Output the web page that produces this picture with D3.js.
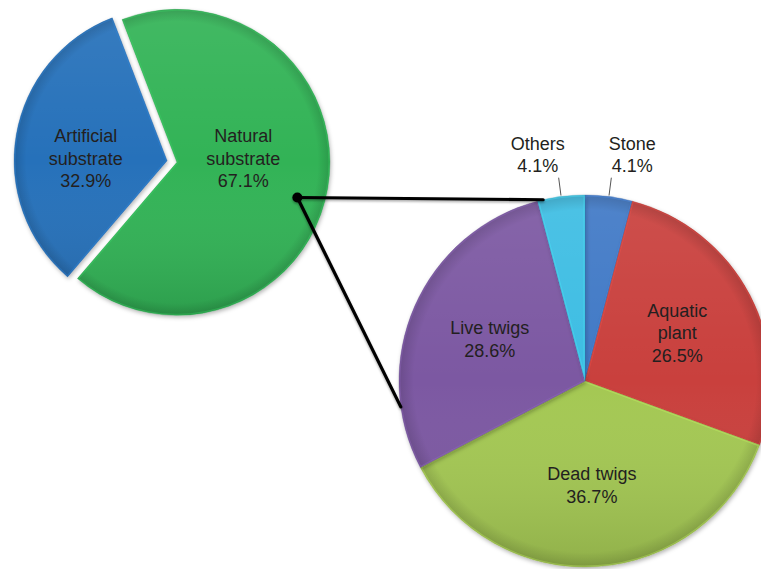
<!DOCTYPE html>
<html>
<head>
<meta charset="utf-8">
<script src="https://cdn.jsdelivr.net/npm/d3@7"></script>
<style>
  html, body { margin: 0; padding: 0; background: #ffffff; }
  svg { display: block; font-family: "Liberation Sans", Arial, Helvetica, sans-serif; }
</style>
</head>
<body>
<svg id="chart" width="761" height="569"></svg>
<script>
// ---- data ----------------------------------------------------------
const substrateNames  = ["Natural substrate", "Artificial substrate"];
const substrateLines  = [["Natural", "substrate"], ["Artificial", "substrate"]];
const substrateShares = [67.1, 32.9];

const naturalNames  = ["Stone", "Aquatic plant", "Dead twigs", "Live twigs", "Others"];
const naturalLines  = [["Stone"], ["Aquatic", "plant"], ["Dead twigs"], ["Live twigs"], ["Others"]];
const naturalShares = [4.1, 26.5, 36.7, 28.6, 4.1];

// ---- styles / layout ----------------------------------------------
const substrateColors = ["#31b356", "#2871ba"];
const naturalColors   = ["#4179c6", "#c9403c", "#a4c853", "#7b58a2", "#3cbde3"];

const leftPie  = { cx: 172, cy: 161.5, r: 153, explode: 5, start: -21 };
const rightPie = { cx: 585, cy: 381,   r: 186, explode: 0, start: 0 };

const substrateLabelRadius = [0.44, 0.54];   // fraction of radius, horizontal placement
const naturalLabelRadius   = 0.56;           // fraction of radius along slice bisector
const outsideSlices = ["Stone", "Others"];   // labelled outside with a leader line
const fontSize = 18, lineHeight = 22.5, textColor = "#231f20";

const rad = Math.PI / 180;
const pct = v => d3.format(".1f")(v) + "%";
const polar = (a, r) => [r * Math.sin(a), -r * Math.cos(a)];

const svg = d3.select("#chart");
const defs = svg.append("defs");

// soft drop shadow under every slice
const shadow = defs.append("filter").attr("id", "shadow")
  .attr("x", "-20%").attr("y", "-20%").attr("width", "140%").attr("height", "140%");
shadow.append("feDropShadow").attr("dx", 1).attr("dy", 2)
  .attr("stdDeviation", 2).attr("flood-color", "#000").attr("flood-opacity", 0.3);

const lineShadow = defs.append("filter").attr("id", "lineShadow")
  .attr("x", "-10%").attr("y", "-10%").attr("width", "120%").attr("height", "120%");
lineShadow.append("feDropShadow").attr("dx", 0).attr("dy", 1.5)
  .attr("stdDeviation", 1.2).attr("flood-color", "#000").attr("flood-opacity", 0.35);

function drawPie(id, cfg, names, lines, shares, colors) {
  const g = svg.append("g").attr("transform", `translate(${cfg.cx},${cfg.cy})`);

  // vertical light-to-dark tint over the whole disc
  const tint = defs.append("linearGradient").attr("id", id + "-tint")
    .attr("gradientUnits", "userSpaceOnUse")
    .attr("x1", 0).attr("y1", -cfg.r).attr("x2", 0).attr("y2", cfg.r);
  tint.append("stop").attr("offset", 0).attr("stop-color", "#fff").attr("stop-opacity", 0.08);
  tint.append("stop").attr("offset", 0.5).attr("stop-color", "#fff").attr("stop-opacity", 0);
  tint.append("stop").attr("offset", 1).attr("stop-color", "#000").attr("stop-opacity", 0.12);

  // darkening towards the rim
  const rim = defs.append("radialGradient").attr("id", id + "-rim")
    .attr("gradientUnits", "userSpaceOnUse").attr("cx", 0).attr("cy", 0).attr("r", cfg.r);
  rim.append("stop").attr("offset", 0.92).attr("stop-color", "#000").attr("stop-opacity", 0);
  rim.append("stop").attr("offset", 1).attr("stop-color", "#000").attr("stop-opacity", 0.14);

  const pie = d3.pie().sort(null).value(d => d.value)
    .startAngle(cfg.start * rad).endAngle(cfg.start * rad + 2 * Math.PI);
  const arcs = pie(names.map((n, i) => ({ name: n, lines: lines[i], value: shares[i], color: colors[i] })));
  const arc = d3.arc().innerRadius(0).outerRadius(cfg.r);

  arcs.forEach((d, i) => {
    const mid = (d.startAngle + d.endAngle) / 2;
    const [ox, oy] = polar(mid, cfg.explode);
    const sg = g.append("g").attr("transform", `translate(${ox},${oy})`);
    const clipId = `${id}-clip-${i}`;
    defs.append("clipPath").attr("id", clipId)
      .append("path").attr("d", arc(d))
      .attr("transform", `translate(${cfg.cx + ox},${cfg.cy + oy})`);

    sg.append("path").attr("d", arc(d)).attr("fill", d.data.color).attr("filter", "url(#shadow)");
    const inner = sg.append("g").attr("clip-path", `url(#${clipId})`)
      .attr("transform", `translate(${-cfg.cx - ox},${-cfg.cy - oy})`)
      .append("g").attr("transform", `translate(${cfg.cx + ox},${cfg.cy + oy})`);
    inner.append("path").attr("d", arc(d)).attr("fill", `url(#${id}-tint)`);
    inner.append("path").attr("d", arc(d)).attr("fill", `url(#${id}-rim)`);
    // bevel: light inner edge
    inner.append("path").attr("d", arc(d)).attr("fill", "none")
      .attr("stroke", d3.color(d.data.color).brighter(0.6)).attr("stroke-opacity", 0.35)
      .attr("stroke-width", 3).attr("stroke-linejoin", "round");
    sg.append("path").attr("d", arc(d)).attr("fill", "none")
      .attr("stroke", d3.color(d.data.color).darker(0.6)).attr("stroke-opacity", 0.4)
      .attr("stroke-width", 0.8);
    d.offset = [ox, oy];
    d.mid = mid;
  });
  return { g, arcs };
}

function labelBlock(parent, x, y, textLines) {
  const n = textLines.length;
  const t = parent.append("text").attr("text-anchor", "middle")
    .attr("font-size", fontSize).attr("fill", textColor);
  textLines.forEach((s, k) => {
    t.append("tspan").attr("x", x)
      .attr("y", y - (n - 1) * lineHeight / 2 + 6.5 + k * lineHeight).text(s);
  });
}

// ---- left pie: substrate type -------------------------------------
const L = drawPie("sub", leftPie, substrateNames, substrateLines, substrateShares, substrateColors);
L.arcs.forEach((d, i) => {
  const [ox] = d.offset;
  const x = ox + Math.sin(d.mid) * substrateLabelRadius[i] * leftPie.r;
  labelBlock(L.g, x, -3.5, [...d.data.lines, pct(d.data.value)]);
});

// ---- right pie: natural substrate breakdown -----------------------
const R = drawPie("nat", rightPie, naturalNames, naturalLines, naturalShares, naturalColors);
R.arcs.forEach(d => {
  if (outsideSlices.includes(d.data.name)) {
    const [x0, y0] = polar(d.mid, rightPie.r + 1);
    const [x1, y1] = polar(d.mid, rightPie.r + 19);
    R.g.append("line").attr("x1", x0).attr("y1", y0).attr("x2", x1).attr("y2", y1)
      .attr("stroke", "#555").attr("stroke-width", 1);
    const side = Math.sin(d.mid) >= 0 ? 1 : -1;
    labelBlock(R.g, x1 + side * 21, y1 - 23, [...d.data.lines, pct(d.data.value)]);
  } else {
    const [x, y] = polar(d.mid, naturalLabelRadius * rightPie.r);
    labelBlock(R.g, x, y, [...d.data.lines, pct(d.data.value)]);
  }
});

// ---- connector: Natural substrate -> breakdown pie ----------------
const natural = L.arcs[0];
const anchorOff = polar(natural.mid + 6.5 * rad, 0.82 * leftPie.r);
const ax = leftPie.cx + natural.offset[0] + anchorOff[0];
const ay = leftPie.cy + natural.offset[1] + anchorOff[1];
const ends = [347, 262].map(a => {
  const [x, y] = polar(a * rad, rightPie.r);
  return [rightPie.cx + x, rightPie.cy + y];
});
const conn = svg.append("g").attr("filter", "url(#lineShadow)");
ends.forEach(([x, y]) => {
  conn.append("line").attr("x1", ax).attr("y1", ay).attr("x2", x).attr("y2", y)
    .attr("stroke", "#000").attr("stroke-width", 3.2).attr("stroke-linecap", "round");
});
conn.append("circle").attr("cx", ax).attr("cy", ay).attr("r", 5).attr("fill", "#000");
</script>
</body>
</html>
